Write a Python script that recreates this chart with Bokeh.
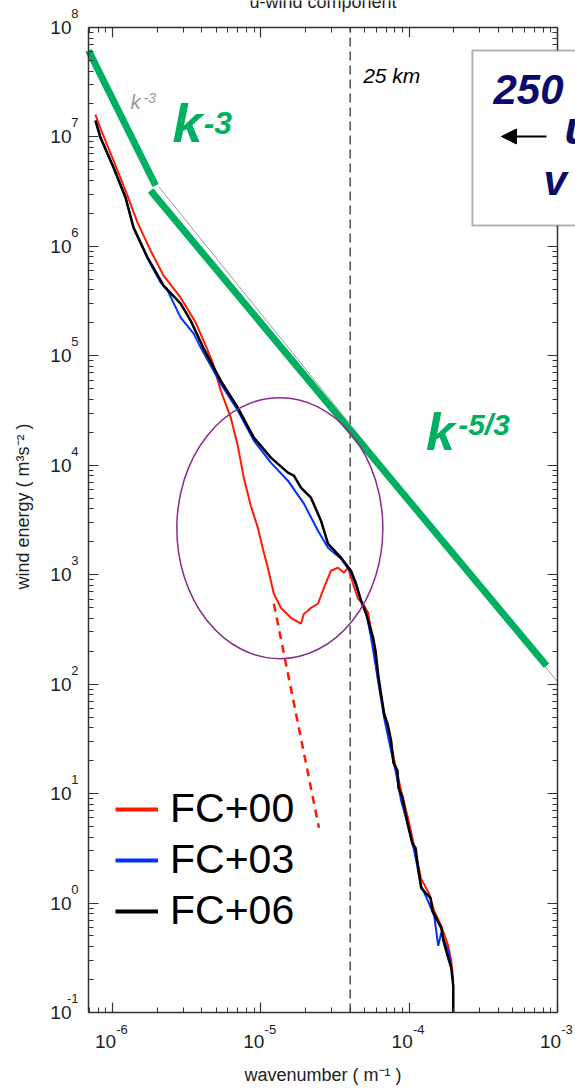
from bokeh.plotting import figure
from bokeh.models import (Label, BoxAnnotation, Arrow, NormalHead, FixedTicker,
                          LogAxis, Legend, LegendItem, CustomJSTickFormatter, Range1d)
from bokeh.embed import file_html
from bokeh.resources import INLINE

# ---------------- data ----------------
k_fc06 = [7.67e-7, 8.30e-7, 1.016e-6, 1.224e-6, 1.386e-6, 1.724e-6, 2.211e-6, 2.880e-6,
          3.365e-6, 4.120e-6, 5.366e-6, 6.992e-6, 8.970e-6, 1.168e-5, 1.522e-5, 1.671e-5,
          1.863e-5, 2.177e-5, 2.543e-5, 2.836e-5, 3.471e-5, 4.055e-5, 4.385e-5, 4.740e-5,
          5.124e-5, 5.712e-5, 5.93e-5, 6.173e-5, 6.41e-5, 6.779e-5, 7.15e-5, 7.556e-5,
          7.84e-5, 8.34e-5, 8.48e-5, 9.02e-5, 9.45e-5, 9.90e-5, 1.053e-4, 1.103e-4,
          1.156e-4, 1.205e-4, 1.289e-4, 1.393e-4, 1.437e-4, 1.553e-4, 1.645e-4, 1.704e-4,
          1.834e-4, 1.922e-4, 1.983e-4, 1.983e-4]
e_fc06 = [1.412e7, 9.87e6, 5.251e6, 2.794e6, 1.485e6, 7.90e5, 4.38e5, 3.00e5,
          2.098e5, 1.164e5, 5.93e4, 3.36e4, 1.788e4, 1.174e4, 8.56e3, 8.03e3,
          6.24e3, 5.06e3, 3.12e3, 1.92e3, 1.431e3, 1.088e3, 827, 578,
          440, 266, 202, 124.5, 87.0, 53.6, 43.5, 30.4,
          19.1, 16.2, 11.3, 9.15, 6.54, 4.87, 3.48, 3.20,
          1.97, 1.377, 1.239, 1.116, 0.849, 0.688, 0.593, 0.451,
          0.315, 0.256, 0.175, 0.1]

k_fc03 = [7.67e-7, 8.30e-7, 1.016e-6, 1.224e-6, 1.386e-6, 1.724e-6, 2.110e-6, 2.353e-6,
          2.880e-6, 3.526e-6, 3.931e-6, 4.594e-6, 5.366e-6, 6.992e-6, 8.970e-6, 1.168e-5,
          1.522e-5, 1.952e-5, 2.428e-5, 2.836e-5, 3.471e-5, 4.055e-5, 4.385e-5, 4.740e-5,
          5.124e-5, 5.536e-5, 6.173e-5, 6.779e-5, 7.556e-5, 8.171e-5, 8.832e-5, 9.845e-5,
          1.081e-4, 1.205e-4, 1.365e-4, 1.475e-4, 1.570e-4, 1.645e-4, 1.834e-4, 1.922e-4]
e_fc03 = [1.412e7, 9.87e6, 5.251e6, 2.794e6, 1.485e6, 7.74e5, 4.67e5, 3.945e5,
          2.235e5, 1.596e5, 1.189e5, 8.14e4, 5.57e4, 3.16e4, 1.679e4, 1.056e4,
          7.23e3, 4.46e3, 2.52e3, 1.766e3, 1.401e3, 1.043e3, 793, 578,
          450, 266, 107.4, 49.3, 24.6, 15.2, 8.60, 5.08,
          3.00, 1.436, 0.983, 0.764, 0.406, 0.534, 0.366, 0.267]

k_fc00 = [7.67e-7, 8.30e-7, 1.016e-6, 1.224e-6, 1.475e-6, 1.806e-6, 2.211e-6, 2.880e-6,
          3.637e-6, 4.250e-6, 4.740e-6, 5.366e-6, 6.272e-6, 6.992e-6, 7.676e-6, 8.560e-6,
          9.544e-6, 1.032e-5, 1.115e-5, 1.224e-5, 1.365e-5, 1.595e-5, 1.863e-5, 1.952e-5,
          2.078e-5, 2.177e-5, 2.428e-5, 2.666e-5, 2.972e-5, 3.313e-5, 3.637e-5, 3.870e-5,
          4.183e-5, 4.524e-5, 4.890e-5, 5.284e-5, 5.712e-5, 6.173e-5, 6.779e-5, 7.556e-5,
          8.171e-5, 8.832e-5, 9.845e-5, 1.081e-4, 1.205e-4, 1.365e-4, 1.475e-4, 1.645e-4,
          1.834e-4, 1.922e-4, 1.983e-4]
e_fc00 = [1.602e7, 1.193e7, 6.085e6, 3.236e6, 1.650e6, 9.155e5, 5.41e5, 3.40e5,
          2.012e5, 1.239e5, 8.67e4, 4.81e4, 2.72e4, 1.511e4, 7.70e3, 4.27e3,
          2.69e3, 1.729e3, 1.159e3, 670, 499, 404, 357, 440,
          469, 499, 543, 761, 1.088e3, 1.159e3, 1.043e3, 1.159e3,
          827, 603, 543, 450, 249, 107.4, 54.8, 27.4,
          16.9, 10.6, 5.89, 3.33, 1.664, 1.214, 0.849, 0.619,
          0.406, 0.296, 0.194]

# red dashed extrapolation of FC+00
k_fc00_extrap = [1.224e-5, 2.466e-5]
e_fc00_extrap = [543, 4.87]

# reference slopes (green) and thin grey guide
k_slope3 = [6.89e-7, 1.952e-6]
e_slope3 = [6.16e7, 3.60e6]
k_slope53 = [1.806e-6, 8.43e-4]
e_slope53 = [3.236e6, 147.3]
k_slope53_thin = [2.046e-6, 1.0e-3]
e_slope53_thin = [3.52e6, 105]

# highlighted region (ellipse centre)
ellipse_k = [1.343e-5]
ellipse_e = [2661]

k_25km = 1.0 / 25000.0

series_labels = ["FC+00", "FC+03", "FC+06"]
x_major = [1e-6, 1e-5, 1e-4, 1e-3]
y_major = [10.0 ** e for e in range(-1, 9)]

X_MIN, X_EDGE = 6.89e-7, 1e-3
Y_MIN, Y_MAX = 0.1, 1e8

# ---------------- layout / styles ----------------
PX_DEC_X = 148.33      # pixels per decade
PX_DEC_Y = 109.44
# the drawing area covers the whole page; the axes box sits inside it
X_VIEW = (X_MIN * 10 ** (-88 / PX_DEC_X), X_EDGE * 10 ** (18 / PX_DEC_X))
Y_VIEW = (Y_MIN * 10 ** (-77 / PX_DEC_Y), Y_MAX * 10 ** (27 / PX_DEC_Y))

FONT = "Liberation Sans"
GREEN = "#00b060"
NAVY = "#0b0b6b"
RED = "#ff1a00"
BLUE = "#0030ff"
AXIS = "#333333"
TXT = "#222222"

p = figure(width=575, height=1089, x_axis_type="log", y_axis_type="log",
           x_axis_location=None, y_axis_location=None,
           x_range=Range1d(*X_VIEW), y_range=Range1d(*Y_VIEW),
           output_backend="svg", toolbar_location=None,
           min_border_left=0, min_border_right=0, min_border_top=0, min_border_bottom=0)
p.grid.visible = False
p.outline_line_color = None
p.background_fill_color = "white"
p.border_fill_color = "white"

x_minor = [m * 10.0 ** e for e in range(-7, -3) for m in range(2, 10)
           if X_MIN < m * 10.0 ** e < X_EDGE]
y_minor = [m * 10.0 ** e for e in range(-1, 8) for m in range(2, 10)]


def style_title(ax):
    ax.axis_label_text_font = FONT
    ax.axis_label_text_font_size = "18px"
    ax.axis_label_text_font_style = "normal"
    ax.axis_label_text_color = TXT


def tick_axis(ticks, minor, bounds, loc):
    ax = LogAxis(fixed_location=loc, bounds=bounds)
    ax.ticker = FixedTicker(ticks=ticks, minor_ticks=minor)
    ax.formatter = CustomJSTickFormatter(code="return ''")
    ax.major_label_text_font_size = "0px"
    ax.major_label_standoff = 0
    ax.major_tick_in = 10
    ax.major_tick_out = 0
    ax.minor_tick_in = 5
    ax.minor_tick_out = 0
    ax.axis_line_color = AXIS
    ax.axis_line_width = 1.5
    ax.major_tick_line_color = AXIS
    ax.minor_tick_line_color = AXIS
    ax.major_tick_line_width = 1.2
    ax.minor_tick_line_width = 1.0
    style_title(ax)
    return ax


def label_axis(ticks, code, size, standoff, loc, bounds="auto"):
    ax = LogAxis(fixed_location=loc, bounds=bounds)
    ax.ticker = FixedTicker(ticks=ticks, minor_ticks=[])
    ax.formatter = CustomJSTickFormatter(code=code)
    ax.axis_line_color = None
    ax.major_tick_line_color = None
    ax.minor_tick_line_color = None
    ax.major_tick_in = 0
    ax.major_tick_out = 0
    ax.minor_tick_in = 0
    ax.minor_tick_out = 0
    ax.major_label_text_font = FONT
    ax.major_label_text_font_size = size
    ax.major_label_text_color = TXT
    ax.major_label_standoff = standoff
    style_title(ax)
    return ax


TEN = "return '10'"
EXPO = "return String(Math.round(Math.log10(tick)))"

# ---- box edges with inward ticks
p.add_layout(tick_axis(x_major, x_minor, (X_MIN, X_EDGE), Y_MIN), "below")
p.add_layout(tick_axis(y_major, y_minor, (Y_MIN, Y_MAX), X_MIN), "left")
xt = tick_axis(x_major, x_minor, (X_MIN, X_EDGE), Y_MAX)
xt.axis_label = "u-wind component"
xt.axis_label_standoff = 16
p.add_layout(xt, "above")
p.add_layout(tick_axis(y_major, y_minor, (Y_MIN, Y_MAX), X_EDGE), "right")

# ---- bottom tick labels: "10" with raised exponent, and axis title
p.add_layout(label_axis([t * 10 ** (9.5 / PX_DEC_X) for t in x_major], EXPO, "13px", 13, Y_MIN),
             "below")
xb10 = label_axis([t * 10 ** (-7 / PX_DEC_X) for t in x_major], TEN, "19px", 23, Y_MIN,
                  bounds=(X_MIN, X_EDGE))
xb10.axis_label = "wavenumber ( m\u207b\u00b9 )"
xb10.axis_label_standoff = 13
p.add_layout(xb10, "below")

# ---- left tick labels
p.add_layout(label_axis([t * 10 ** (14 / PX_DEC_Y) for t in y_major], EXPO, "13px", 10, X_MIN),
             "left")
yl10 = label_axis(y_major, TEN, "19px", 17, X_MIN, bounds=(Y_MIN, Y_VIEW[1]))
yl10.axis_label = "wind energy ( m\u00b3s\u207b\u00b2 )"
yl10.axis_label_standoff = 14
p.add_layout(yl10, "left")

# 25 km line
p.line([k_25km, k_25km], [Y_MIN, Y_MAX], line_color=TXT, line_width=1.2, line_dash="9 5")
p.add_layout(Label(x=k_25km, y=2.83e7, text="25 km", x_offset=13, text_font=FONT,
                   text_font_style="italic", text_font_size="21px", text_color="black"))

# reference slopes
p.line(k_slope53_thin, e_slope53_thin, line_color="#999999", line_width=1)
p.line(k_slope3, e_slope3, line_color=GREEN, line_width=7)
p.line(k_slope53, e_slope53, line_color=GREEN, line_width=7)

p.add_layout(Label(x=1.323e-6, y=1.64e7, text="k", text_font=FONT, text_font_style="italic",
                   text_font_size="20px", text_color="#999999"))
p.add_layout(Label(x=1.62e-6, y=2.06e7, text="-3", text_font=FONT, text_font_style="italic",
                   text_font_size="14px", text_color="#999999"))
p.add_layout(Label(x=2.54e-6, y=7.2e6, text="k", text_font=FONT, text_font_style="bold italic",
                   text_font_size="54px", text_color=GREEN))
p.add_layout(Label(x=4.12e-6, y=1.07e7, text="-3", text_font=FONT, text_font_style="bold italic",
                   text_font_size="32px", text_color=GREEN))
p.add_layout(Label(x=1.30e-4, y=1.10e4, text="k", text_font=FONT, text_font_style="bold italic",
                   text_font_size="52px", text_color=GREEN))
p.add_layout(Label(x=2.14e-4, y=1.68e4, text="-5/3", text_font=FONT, text_font_style="bold italic",
                   text_font_size="30px", text_color=GREEN))

# spectra
p.line(k_fc00, e_fc00, line_color=RED, line_width=2)
p.line(k_fc00_extrap, e_fc00_extrap, line_color=RED, line_width=2.5, line_dash="8 6")
p.line(k_fc03, e_fc03, line_color=BLUE, line_width=2)
p.line(k_fc06, e_fc06, line_color="black", line_width=2.5)

# legend proxies: one-point lines (draw nothing) carrying the thicker legend sample style
l00 = p.line(k_fc00[:1], e_fc00[:1], line_color=RED, line_width=4)
l03 = p.line(k_fc03[:1], e_fc03[:1], line_color=BLUE, line_width=4)
l06 = p.line(k_fc06[:1], e_fc06[:1], line_color="black", line_width=4)

# ellipse
p.ellipse(ellipse_k, ellipse_e, width=206, height=261, width_units="screen",
          height_units="screen", fill_color=None, line_color="#8a2a8a", line_width=1.5)

legend = Legend(items=[LegendItem(label=series_labels[0], renderers=[l00]),
                       LegendItem(label=series_labels[1], renderers=[l03]),
                       LegendItem(label=series_labels[2], renderers=[l06])],
                location=(115, 155), orientation="vertical",
                label_text_font=FONT, label_text_font_size="41px", label_text_color="black",
                glyph_width=43, glyph_height=40, label_standoff=12,
                spacing=4, padding=0, margin=0,
                border_line_color=None, background_fill_alpha=0)
p.add_layout(legend)

# level box at top right
p.add_layout(BoxAnnotation(left=2.67e-4, right=1e-1, top=6.16e7, bottom=1.55e6,
                           fill_color="white", fill_alpha=1.0, line_color="black",
                           line_width=2, level="overlay"))
p.add_layout(Label(x=3.70e-4, y=2.02e7, text="250", text_font=FONT, text_font_style="bold italic",
                   text_font_size="42px", text_color=NAVY, level="overlay"))
p.add_layout(Arrow(end=NormalHead(size=15, fill_color="black", line_color="black"),
                   x_start=8.43e-4, y_start=1.01e7, x_end=4.19e-4, y_end=1.01e7,
                   line_width=2, line_color="black", level="overlay"))
p.add_layout(Label(x=1.114e-3, y=7.05e6, text="u", text_font=FONT, text_font_style="bold italic",
                   text_font_size="46px", text_color=NAVY, level="overlay"))
p.add_layout(Label(x=8.04e-4, y=2.46e6, text="v", text_font=FONT, text_font_style="bold italic",
                   text_font_size="42px", text_color=NAVY, level="overlay"))

open("out.html", "w").write(file_html(p, INLINE))
